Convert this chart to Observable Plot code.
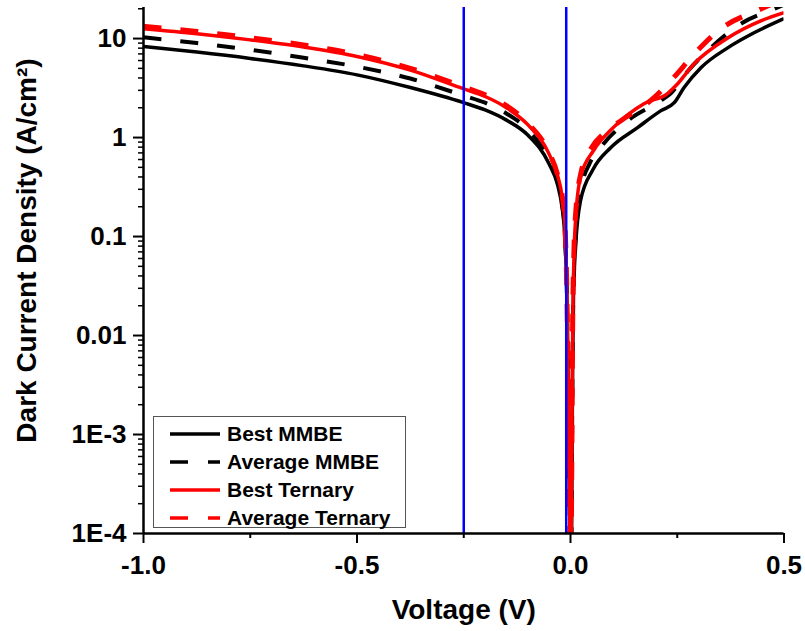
<!DOCTYPE html>
<html>
<head>
<meta charset="utf-8">
<script src="https://cdn.jsdelivr.net/npm/d3@7"></script>
<script src="https://cdn.jsdelivr.net/npm/@observablehq/plot@0.6"></script>
<style>
  html, body { margin: 0; padding: 0; background: #fff; }
  #wrap { position: relative; width: 805px; height: 631px; font-family: "Liberation Sans", Arial, sans-serif; }
  #wrap svg text { font-weight: bold; }
  .legend { position: absolute; left: 153px; top: 416px; width: 251px; height: 110px; border: 1px solid #555; background: #fff; box-sizing: content-box; }
  .legend .row { position: absolute; left: 16px; height: 28px; display: flex; align-items: center; font-size: 21px; font-weight: bold; color: #000; white-space: nowrap; }
  .legend .row svg { margin-right: 7px; }
</style>
</head>
<body>
<div id="wrap"></div>
<script>
// ---- data ----
const seriesNames = ["Best MMBE", "Average MMBE", "Best Ternary", "Average Ternary"];
const seriesColors = ["#000000", "#000000", "#ff0000", "#ff0000"];
const seriesDash = [null, "18,19", null, "18,19"];
const seriesWidth = [3.5, 4, 3.5, 5];

const voltageBestMMBE = [-1.0, -0.875, -0.75, -0.625, -0.5, -0.375, -0.25, -0.2, -0.15, -0.1, -0.05, -0.03, -0.02, -0.014, -0.008, -0.005, -0.002, 0, 0.003, 0.005, 0.007, 0.012, 0.0235, 0.052, 0.094, 0.157, 0.212, 0.243, 0.266, 0.306, 0.369, 0.431, 0.5];
const densityBestMMBE = [8.3, 7.3, 6.3, 5.3, 4.3, 3.2, 2.25, 1.9, 1.5, 1.06, 0.54, 0.33, 0.2, 0.11, 0.02, 0.002, 0.0002, 0.00001, 0.0002, 0.005, 0.025, 0.08, 0.23, 0.47, 0.79, 1.26, 1.87, 2.25, 3.2, 5.1, 8.1, 11.5, 15.9];

const voltageAvgMMBE = [-1.0, -0.875, -0.75, -0.625, -0.5, -0.375, -0.25, -0.2, -0.15, -0.1, -0.05, -0.03, -0.02, -0.014, -0.008, -0.005, -0.002, 0, 0.003, 0.005, 0.008, 0.012, 0.025, 0.045, 0.07, 0.134, 0.212, 0.235, 0.275, 0.329, 0.4, 0.478, 0.5];
const densityAvgMMBE = [10.3, 9.0, 7.7, 6.4, 5.2, 3.95, 2.65, 2.25, 1.75, 1.2, 0.6, 0.36, 0.22, 0.12, 0.02, 0.002, 0.0002, 0.00001, 0.0003, 0.008, 0.04, 0.1, 0.3, 0.55, 0.79, 1.48, 2.37, 2.8, 4.7, 8.1, 14.2, 20, 22];

const voltageBestTernary = [-1.0, -0.875, -0.75, -0.625, -0.5, -0.375, -0.25, -0.2, -0.15, -0.1, -0.05, -0.03, -0.02, -0.013, -0.008, -0.005, -0.002, 0, 0.003, 0.005, 0.008, 0.012, 0.0235, 0.054, 0.1, 0.172, 0.228, 0.247, 0.29, 0.369, 0.447, 0.5];
const densityBestTernary = [12.6, 11.2, 9.7, 8.2, 6.6, 4.8, 3.1, 2.6, 2.0, 1.35, 0.68, 0.41, 0.26, 0.13, 0.02, 0.002, 0.0002, 0.00001, 0.0005, 0.01, 0.06, 0.15, 0.4, 0.74, 1.26, 2.2, 2.8, 3.35, 5.6, 10.2, 15.2, 18.3];

const voltageAvgTernary = [-1.0, -0.875, -0.75, -0.625, -0.5, -0.375, -0.25, -0.2, -0.15, -0.1, -0.05, -0.03, -0.02, -0.013, -0.008, -0.005, -0.002, 0, 0.003, 0.005, 0.008, 0.012, 0.025, 0.05, 0.078, 0.118, 0.188, 0.243, 0.29, 0.346, 0.447, 0.5];
const densityAvgTernary = [13.3, 11.8, 10.2, 8.6, 6.9, 5.0, 3.25, 2.7, 2.1, 1.4, 0.7, 0.42, 0.27, 0.13, 0.02, 0.002, 0.0002, 0.00001, 0.0005, 0.012, 0.07, 0.17, 0.45, 0.8, 1.1, 1.48, 2.37, 4.1, 7.0, 12, 20, 25];

const markerVoltages = [-0.25, -0.01];

const xMajorTicks = [-1.0, -0.5, 0.0, 0.5];
const xTickLabels = ["-1.0", "-0.5", "0.0", "0.5"];
const xMinorTicks = [-0.75, -0.25, 0.25];
const yMajorTicks = [10, 1, 0.1, 0.01, 0.001, 0.0001];
const yTickLabels = ["10", "1", "0.1", "0.01", "1E-3", "1E-4"];
const yMinorTicks = [20, 9, 8, 7, 6, 5, 4, 3, 2, 0.9, 0.8, 0.7, 0.6, 0.5, 0.4, 0.3, 0.2, 0.09, 0.08, 0.07, 0.06, 0.05, 0.04, 0.03, 0.02, 0.009, 0.008, 0.007, 0.006, 0.005, 0.004, 0.003, 0.002, 0.0009, 0.0008, 0.0007, 0.0006, 0.0005, 0.0004, 0.0003, 0.0002];

const xTitle = "Voltage (V)";
const yTitle = "Dark Current Density (A/cm²)";

// ---- build ----
const allV = [voltageBestMMBE, voltageAvgMMBE, voltageBestTernary, voltageAvgTernary];
const allJ = [densityBestMMBE, densityAvgMMBE, densityBestTernary, densityAvgTernary];
const seriesData = allV.map((vs, s) => vs.map((v, i) => ({V: v, J: allJ[s][i], series: seriesNames[s]})));

const xLabelMap = new Map(xMajorTicks.map((v, i) => [v, xTickLabels[i]]));
const yLabelMap = new Map(yMajorTicks.map((v, i) => [v, yTickLabels[i]]));

const lineMarks = seriesData.map((d, s) => Plot.line(d, {
  x: "V", y: "J",
  stroke: seriesColors[s],
  strokeWidth: seriesWidth[s],
  strokeDasharray: seriesDash[s] ?? undefined,
  strokeLinecap: "butt",
  curve: "monotone-x",
  clip: true
}));

const chart = Plot.plot({
  width: 805,
  height: 631,
  marginLeft: 143,
  marginRight: 21.5,
  marginTop: 7,
  marginBottom: 98,
  style: {fontFamily: "'Liberation Sans', Arial, sans-serif", background: "#fff", color: "#000"},
  x: {domain: [-1, 0.5]},
  y: {type: "log", domain: [1e-4, 20.6]},
  marks: [
    ...lineMarks,
    Plot.ruleX(markerVoltages, {stroke: "#0000ff", strokeWidth: 2.5}),
    Plot.ruleX([-1], {stroke: "#000", strokeWidth: 2.5}),
    Plot.ruleY([1e-4], {stroke: "#000", strokeWidth: 2.5}),
    Plot.axisX({ticks: xMajorTicks, tickSize: 10, tickPadding: 12, strokeWidth: 2, tickFormat: d => xLabelMap.get(d), fontSize: 26, fontWeight: "bold", label: null}),
    Plot.axisX({ticks: xMinorTicks, tickSize: 5, strokeWidth: 2, tickFormat: () => "", label: null}),
    Plot.axisY({ticks: yMajorTicks, tickSize: 10, tickPadding: 7, strokeWidth: 2, tickFormat: d => yLabelMap.get(d), fontSize: 26, fontWeight: "bold", label: null}),
    Plot.axisY({ticks: yMinorTicks, tickSize: 5, strokeWidth: 1.5, tickFormat: () => "", label: null}),
    Plot.text([yTitle], {frameAnchor: "left", textAnchor: "middle", lineAnchor: "middle", dx: -116, dy: -20, rotate: -90, fontSize: 28, fontWeight: "bold", fill: "#000"}),
    Plot.text([xTitle], {frameAnchor: "bottom", textAnchor: "middle", dy: 85, fontSize: 28, fontWeight: "bold", fill: "#000"})
  ]
});

const wrap = document.getElementById("wrap");
wrap.appendChild(chart);

// legend (HTML overlay)
const legend = document.createElement("div");
legend.className = "legend";
seriesNames.forEach((name, i) => {
  const row = document.createElement("div");
  row.className = "row";
  row.style.top = (3 + 28 * i) + "px";
  const sw = d3.create("svg").attr("width", 50).attr("height", 8);
  sw.append("line").attr("x1", 0).attr("x2", 50).attr("y1", 4).attr("y2", 4)
    .attr("stroke", seriesColors[i]).attr("stroke-width", 3.5)
    .attr("stroke-dasharray", seriesDash[i] ? "18,20" : null);
  row.appendChild(sw.node());
  const label = document.createElement("span");
  label.textContent = name;
  row.appendChild(label);
  legend.appendChild(row);
});
wrap.appendChild(legend);
</script>
</body>
</html>
